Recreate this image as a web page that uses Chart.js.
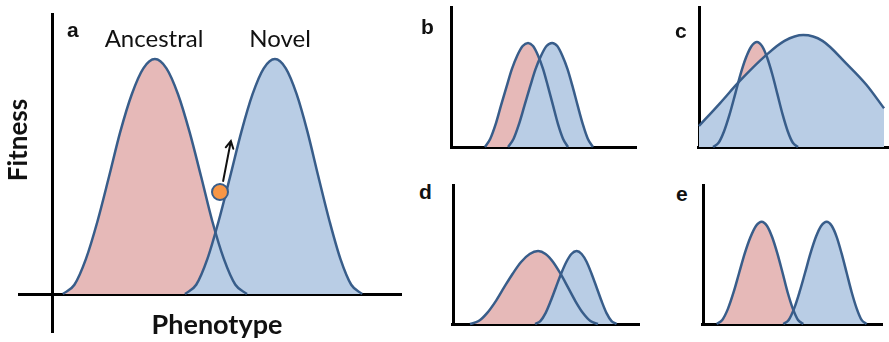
<!DOCTYPE html>
<html>
<head>
<meta charset="utf-8">
<script src="https://cdn.jsdelivr.net/npm/chart.js@4.4.1/dist/chart.umd.min.js"></script>
<style>
body{margin:0;background:#fff;width:889px;height:342px;position:relative;overflow:hidden}
canvas{position:absolute}
.lbl{position:absolute;line-height:1;white-space:nowrap;text-align:center;color:#111}
.tag{font:bold 21px 'Liberation Sans',Arial,sans-serif;text-align:left;color:#111}
.name{font:24px Lato,sans-serif;width:160px}
.axis{font:bold 27px Lato,sans-serif;width:200px;color:#111}
</style>
</head>
<body>
<canvas id="chartA"></canvas>
<canvas id="chartB"></canvas>
<canvas id="chartC"></canvas>
<canvas id="chartD"></canvas>
<canvas id="chartE"></canvas>

<div class="lbl tag" style="left:67px;top:18px">a</div>
<div class="lbl tag" style="left:421px;top:15px">b</div>
<div class="lbl tag" style="left:675px;top:19px">c</div>
<div class="lbl tag" style="left:419px;top:180px">d</div>
<div class="lbl tag" style="left:676px;top:182px">e</div>
<div class="lbl name" style="left:74px;top:23px">Ancestral</div>
<div class="lbl name" style="left:200px;top:23px">Novel</div>
<div class="lbl axis" style="left:117px;top:307px">Phenotype</div>
<div class="lbl axis" style="left:-83px;top:124px;font-size:26px;transform:rotate(-90deg)">Fitness</div>

<script>
//色
const OUTLINE = '#385d8a';
const PINK = '#e6b9b8';
const BLUE = '#b9cde5';
const ORANGE = '#f79646';

//データ（x: 原点→軸端 0-100, y: 原点→軸上端 0-100）
// a
const ancestralA_x = [3.1, 6.4, 9.7, 13.0, 16.3, 19.5, 22.8, 26.1, 29.4, 32.7, 36.0, 39.3, 42.6, 45.8, 49.1, 52.4, 55.7];
const ancestralA_y = [0, 3.3, 12.5, 25.9, 41.8, 57.7, 71.1, 80.3, 83.6, 80.3, 71.1, 57.7, 41.8, 25.9, 12.5, 3.3, 0];
const novelA_x = [38.0, 41.2, 44.4, 47.6, 50.9, 54.1, 57.3, 60.5, 63.7, 66.8, 69.9, 73.0, 76.1, 79.3, 82.4, 85.5, 88.6];
const novelA_y = [0, 3.3, 12.5, 25.9, 41.8, 57.7, 71.1, 80.3, 83.6, 80.3, 71.1, 57.7, 41.8, 25.9, 12.5, 3.3, 0];
const dotA_x = [48.0];
const dotA_y = [36.3];
const arrowA_x = [48.9, 51.1];
const arrowA_y = [40.2, 54.4];
// b
const ancestralB_x = [17.8, 20.7, 23.6, 26.5, 29.5, 32.4, 35.3, 38.2, 41.1, 43.8, 46.5, 49.2, 51.9, 54.6, 57.3, 60.0, 62.7];
const ancestralB_y = [0, 5.9, 16.2, 29.5, 42.8, 55.4, 64.9, 71.6, 73.8, 71.6, 64.9, 55.4, 42.8, 29.5, 16.2, 5.9, 0];
const novelB_x = [30.3, 33.3, 36.2, 39.2, 42.2, 45.2, 48.2, 51.1, 54.1, 56.9, 59.6, 62.4, 65.2, 67.9, 70.7, 73.4, 76.2];
const novelB_y = [0, 5.9, 16.2, 29.5, 42.8, 55.4, 64.9, 71.6, 73.8, 71.6, 64.9, 55.4, 42.8, 29.5, 16.2, 5.9, 0];
// c
const ancestralC_x = [7.4, 10.3, 13.2, 16.1, 19.0, 21.8, 24.7, 27.6, 30.5, 33.2, 35.9, 38.6, 41.3, 44.0, 46.7, 49.4, 52.1];
const ancestralC_y = [0, 3.0, 11.2, 23.1, 37.3, 51.4, 63.3, 71.5, 74.5, 71.5, 63.3, 51.4, 37.3, 23.1, 11.2, 3.0, 0];
const novelC_x = [0, 11, 21.6, 35.6, 45, 54.9, 65, 77.7, 88.2, 97.4];
const novelC_y = [14.9, 31, 47.0, 65.5, 75.3, 79.4, 75.3, 59, 44, 27.4];
// d
const ancestralD_x = [9.1, 13.7, 18.2, 22.8, 27.3, 31.9, 36.4, 41.0, 45.5, 49.5, 53.5, 57.5, 61.5, 65.5, 69.5, 73.5, 77.5];
const ancestralD_y = [0, 2.1, 7.8, 16.2, 26.1, 35.9, 44.3, 50.0, 52.1, 50.0, 44.3, 35.9, 26.1, 16.2, 7.8, 2.1, 0];
const novelD_x = [43.9, 46.7, 49.5, 52.2, 55.0, 57.8, 60.6, 63.3, 66.1, 68.8, 71.5, 74.1, 76.8, 79.5, 82.1, 84.8, 87.5];
const novelD_y = [0, 2.1, 7.8, 16.2, 26.1, 35.9, 44.3, 50.0, 52.1, 50.0, 44.3, 35.9, 26.1, 16.2, 7.8, 2.1, 0];
// e
const ancestralE_x = [7.6, 10.7, 13.9, 17.0, 20.1, 23.2, 26.4, 29.5, 32.6, 35.5, 38.4, 41.3, 44.2, 47.0, 49.9, 52.8, 55.7];
const ancestralE_y = [0, 2.9, 11.0, 22.7, 36.6, 50.4, 62.1, 70.2, 73.1, 70.2, 62.1, 50.4, 36.6, 22.7, 11.0, 2.9, 0];
const novelE_x = [44.6, 47.6, 50.6, 53.6, 56.7, 59.7, 62.7, 65.7, 68.7, 71.5, 74.3, 77.0, 79.8, 82.6, 85.4, 88.1, 90.9];
const novelE_y = [0, 2.9, 11.0, 22.7, 36.6, 50.4, 62.1, 70.2, 73.1, 70.2, 62.1, 50.4, 36.6, 22.7, 11.0, 2.9, 0];

//パネル配置（box: 左,上,右,下 / origin: 原点 / end: x軸右端, y軸上端）
const panels = [
    {id: 'chartA', box: [18, 13, 402, 333], origin: [52, 294], end: [402, 13],
     anc: [ancestralA_x, ancestralA_y], nov: [novelA_x, novelA_y], dot: [dotA_x, dotA_y], arrow: [arrowA_x, arrowA_y]},
    {id: 'chartB', box: [450, 6, 637, 149], origin: [452, 147], end: [637, 6],
     anc: [ancestralB_x, ancestralB_y], nov: [novelB_x, novelB_y]},
    {id: 'chartC', box: [697, 6, 889, 149], origin: [699, 147], end: [889, 6],
     anc: [ancestralC_x, ancestralC_y], nov: [novelC_x, novelC_y]},
    {id: 'chartD', box: [451, 184, 640, 326], origin: [453, 324], end: [640, 184],
     anc: [ancestralD_x, ancestralD_y], nov: [novelD_x, novelD_y]},
    {id: 'chartE', box: [701, 184, 883, 326], origin: [703, 324], end: [883, 184],
     anc: [ancestralE_x, ancestralE_y], nov: [novelE_x, novelE_y]}
];

function pts(xs, ys){
    return xs.map((x, i) => ({x: x, y: ys[i]}));
}

//矢印
const arrowPlugin = {
    id: 'arrow',
    afterDatasetsDraw(chart, args, opts){
        if (!opts.xs) return;
        const ctx = chart.ctx;
        const sx = chart.scales.x, sy = chart.scales.y;
        const x0 = sx.getPixelForValue(opts.xs[0]), y0 = sy.getPixelForValue(opts.ys[0]);
        const x1 = sx.getPixelForValue(opts.xs[1]), y1 = sy.getPixelForValue(opts.ys[1]);
        const ang = Math.atan2(y1 - y0, x1 - x0);
        ctx.save();
        ctx.strokeStyle = '#111';
        ctx.lineWidth = 2;
        ctx.lineCap = 'round';
        ctx.beginPath();
        ctx.moveTo(x0, y0);
        ctx.lineTo(x1, y1);
        ctx.moveTo(x1 - 8 * Math.cos(ang - 0.5), y1 - 8 * Math.sin(ang - 0.5));
        ctx.lineTo(x1, y1);
        ctx.lineTo(x1 - 8 * Math.cos(ang + 0.5), y1 - 8 * Math.sin(ang + 0.5));
        ctx.stroke();
        ctx.restore();
    }
};

function axisOpts(min, max){
    return {
        type: 'linear', min: min, max: max, z: 1,
        ticks: {display: false},
        border: {display: false},
        grid: {drawTicks: false, lineWidth: 3, color: '#000'},
        afterBuildTicks: (axis) => { axis.ticks = [{value: 0}]; }
    };
}

function curve(data, fillColor){
    return {
        data: pts(data[0], data[1]),
        borderColor: OUTLINE, backgroundColor: fillColor, borderWidth: 2.5,
        fill: 'origin', pointRadius: 0, pointHoverRadius: 0, cubicInterpolationMode: 'monotone'
    };
}

//チャート描画
function newChart(p){
    const cv = document.getElementById(p.id);
    const [l, t, r, b] = p.box;
    cv.width = r - l; cv.height = b - t;
    cv.style.left = l + 'px'; cv.style.top = t + 'px';
    const pxX = (p.end[0] - p.origin[0]) / 100;
    const pxY = (p.origin[1] - p.end[1]) / 100;
    const datasets = [];
    if (p.dot) {
        datasets.push({
            data: pts(p.dot[0], p.dot[1]), showLine: false, fill: false,
            pointRadius: 8, pointBorderWidth: 2, pointBackgroundColor: ORANGE, pointBorderColor: OUTLINE
        });
    }
    datasets.push(curve(p.nov, BLUE)); // 青を上に
    datasets.push(curve(p.anc, PINK));
    new Chart(cv.getContext('2d'), {
        type: 'line',
        data: {datasets: datasets},
        options: {
            responsive: false, animation: false, devicePixelRatio: 1,
            layout: {padding: 0, autoPadding: false}, // 点の半径で内側に寄らないように
            events: [],
            scales: {
                x: axisOpts((l - p.origin[0]) / pxX, (r - p.origin[0]) / pxX),
                y: axisOpts(-(b - p.origin[1]) / pxY, (p.origin[1] - t) / pxY)
            },
            plugins: {
                legend: {display: false},
                tooltip: {enabled: false},
                filler: {drawTime: 'beforeDatasetsDraw'},
                arrow: p.arrow ? {xs: p.arrow[0], ys: p.arrow[1]} : {}
            }
        },
        plugins: [arrowPlugin]
    });
}

window.addEventListener('DOMContentLoaded', () => {
    panels.forEach(newChart);
});
</script>
</body>
</html>
